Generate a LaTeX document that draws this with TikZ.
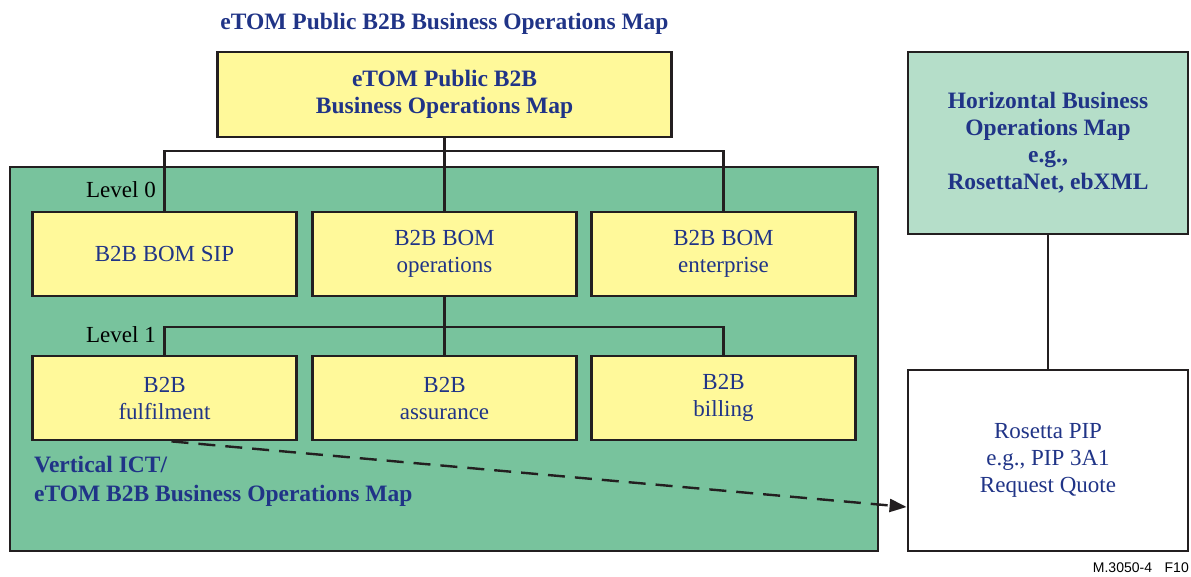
\documentclass[tikz,border=0pt]{standalone}
\usepackage{fontspec}
\setmainfont{Liberation Serif}
\newfontfamily\figsans{Liberation Sans}
\usetikzlibrary{arrows.meta,calc}
\definecolor{navy}{RGB}{32,52,135}
\definecolor{ylw}{RGB}{255,249,154}
\definecolor{grn}{RGB}{120,195,157}
\definecolor{lgrn}{RGB}{181,222,201}
\definecolor{ink}{RGB}{35,31,32}
\tikzset{
  box/.style={draw=ink, line width=2.8pt, align=center, text=navy, inner sep=0pt,
    font=\fontsize{23}{27}\selectfont},
  ybox/.style={box, fill=ylw, minimum width=264pt, minimum height=84pt},
  conn/.style={draw=ink, line width=2.4pt},
  lvl/.style={anchor=east, inner sep=0pt, font=\fontsize{23}{27}\selectfont, text=black},
  bfont/.style={font=\bfseries\fontsize{23.5}{27}\selectfont},
  btxt/.style={bfont, text=navy, align=center, inner sep=0pt}
}
\begin{document}
\begin{tikzpicture}[x=1pt,y=-1pt]
\useasboundingbox (0,0) rectangle (1191,576);
% title
\node[btxt] (title) at (444.5,24) {eTOM Public B2B Business Operations Map};
% top box
\node[box, fill=ylw, minimum width=454pt, minimum height=85pt, bfont] (top) at (444.5,94.5) {eTOM Public B2B\\Business Operations Map};
% vertical big green box
\node[box, fill=grn, minimum width=868pt, minimum height=384pt] (vert) at (444,359) {};
% level 0
\node[ybox] (sip) at (164.5,254) {B2B BOM SIP};
\node[ybox] (ops) at (444.5,254) {B2B BOM\\operations};
\node[ybox] (ent) at (723.5,254) {B2B BOM\\enterprise};
% level 1
\node[ybox] (ful) at (164.5,398) {B2B\\fulfilment};
\node[ybox] (asr) at (444.5,398) {B2B\\assurance};
\node[ybox] (bil) at (723.5,398) {B2B\\billing};
% level labels
\node[lvl] (l0) at (156,190) {Level 0};
\node[lvl] (l1) at (156,335) {Level 1};
% vertical map label
\node[btxt, anchor=west, align=left, font=\bfseries\fontsize{23.5}{29}\selectfont] (vlab) at (34,481) {Vertical ICT/\\eTOM B2B Business Operations Map};
% right boxes
\node[box, fill=lgrn, minimum width=280pt, minimum height=182pt, bfont] (hor) at (1048,143) {Horizontal Business\\Operations Map\\e.g.,\\RosettaNet, ebXML};
\node[box, fill=white, minimum width=280pt, minimum height=181pt] (ros) at (1048,460.5) {Rosetta PIP\\e.g., PIP 3A1\\Request Quote};
% connectors
\coordinate (j0) at (444.5,151);
\draw[conn] (top.south) -- (ops.north);
\draw[conn] (sip.north) |- (j0) -| (ent.north);
\coordinate (j1) at (444.5,327);
\draw[conn] (ops.south) -- (asr.north);
\draw[conn] (ful.north) |- (j1) -| (bil.north);
\draw[conn] (hor.south) -- (ros.north);
\draw[draw=ink, line width=2.4pt, dash pattern=on 17pt off 10pt, -{Triangle[length=17pt,width=13pt]}]
  ([xshift=7pt]ful.south) -- ([yshift=-46.5pt]ros.west);
% figure id
\node[anchor=east, inner sep=0pt, font=\figsans\fontsize{14}{16}\selectfont] (fid) at (1189,568) {M.3050-4\hspace{0.9em}F10};
\end{tikzpicture}
\end{document}
